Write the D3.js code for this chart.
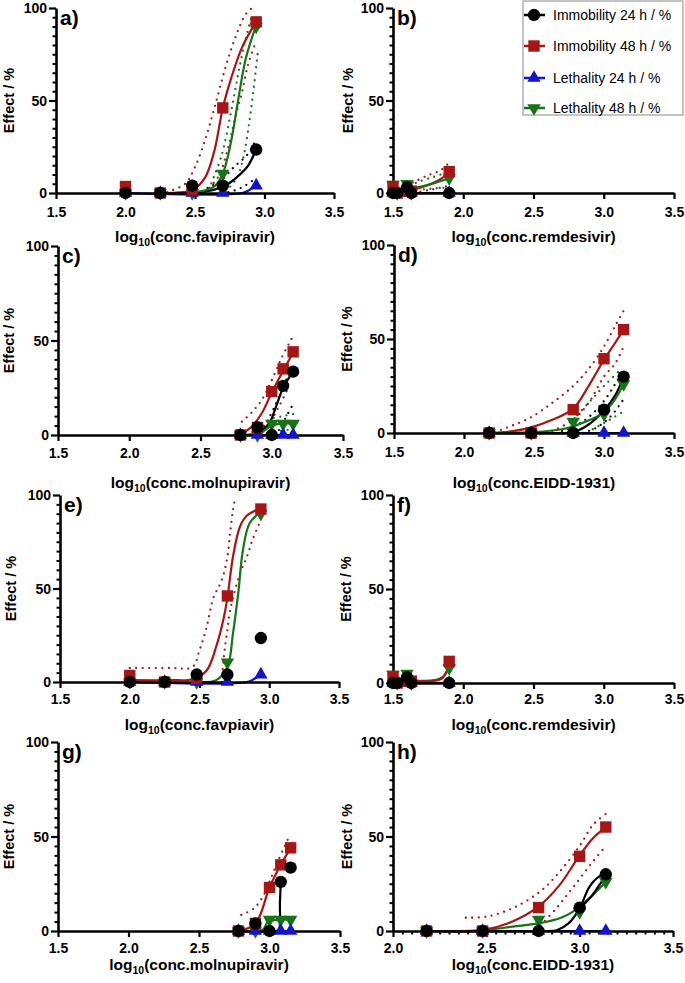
<!DOCTYPE html>
<html>
<head>
<meta charset="utf-8">
<script src="https://cdn.jsdelivr.net/npm/d3@7"></script>
<style>
  body { margin: 0; background: #fff; }
  svg { display: block; }
</style>
</head>
<body>
<svg id="chart" width="685" height="983"></svg>
<script>
// ---- series (legend) ----
var seriesNames = ["Immobility 24 h / %", "Immobility 48 h / %", "Lethality 24 h / %", "Lethality 48 h / %"];

// ---- measured points ----
var favX       = [2.0, 2.25, 2.48, 2.7, 2.94];
var favImmob24 = [0, 0, 4, 4, 23.5];
var favImmob48 = [3.5, 0, 2, 46, 92.5];
var favLeth24  = [0, 0, 0, 0, 4];
var favLeth48  = [0, 0, 0, 10.5, 90];

var remX       = [1.5, 1.53, 1.6, 1.63, 1.9];
var remImmob24 = [0, 0, 3, 0, 0];
var remImmob48 = [3.5, 0, 1, 1, 11.5];
var remLeth24  = [0, 0, 0, 0, 0];
var remLeth48  = [4.5, 0, 5, 0, 8];

var molX       = [2.78, 2.9, 3.0, 3.08, 3.15];
var molImmob24 = [0, 4, 0, 26, 33.5];
var molImmob48 = [0, 4, 23, 35, 44];
var molLeth24  = [0, 0, 0, 0, 0];
var molLeth48  = [0, 0, 6, 6, 6];

var eiddX       = [2.18, 2.48, 2.78, 3.0, 3.14];
var eiddImmob24 = [0, 0, 0, 12.4, 30];
var eiddImmob48 = [0, 0, 12.4, 39.5, 55];
var eiddLeth24  = [0, 0, 0, 0, 0];
var eiddLeth48  = [0, 0, 6, 10, 26];

// ---- fitted curves and 95% bands ([log conc, effect]) ----
// a) favipiravir
var aImmob24Fit = [[2.25,0],[2.5,0.4],[2.64,1.8],[2.74,5],[2.83,10.5],[2.88,14.5],[2.94,23.5]];
var aImmob24Hi  = [[2.59,2.7],[2.69,7],[2.78,14],[2.88,21],[2.94,29]];
var aImmob24Lo  = [[2.74,0.4],[2.83,2.7],[2.94,8]];
var aImmob48Fit = [[2.25,0],[2.4,0.3],[2.48,1.5],[2.57,8],[2.64,23],[2.7,46],[2.76,62],[2.84,79],[2.94,92.5]];
var aImmob48Hi  = [[2.3,0.5],[2.43,5],[2.5,14],[2.57,28],[2.64,46],[2.72,68],[2.79,84],[2.86,96],[2.91,100]];
var aImmob48Lo  = [[2.57,0.4],[2.67,9],[2.74,25],[2.79,41],[2.84,55],[2.88,69],[2.93,80]];
var aLeth24Fit  = [[2.0,0],[2.84,0],[2.9,2],[2.94,4]];
var aLeth48Fit  = [[2.48,0],[2.64,3.6],[2.7,10.5],[2.76,28],[2.81,50],[2.86,71],[2.91,84],[2.94,90]];
var aLeth48Hi   = [[2.6,2],[2.69,20],[2.76,44],[2.81,64],[2.86,82],[2.91,96]];
var aLeth48Lo   = [[2.72,1],[2.8,8],[2.85,20],[2.89,38],[2.92,55],[2.95,75]];
// b) remdesivir
var bImmob24Fit = [[1.5,0],[1.9,0]];
var bImmob48Fit = [[1.5,1],[1.6,1.5],[1.7,3],[1.8,6],[1.9,10.5]];
var bImmob48Hi  = [[1.6,4],[1.65,6],[1.75,9.6],[1.84,12.3],[1.9,16.5]];
var bImmob48Lo  = [[1.65,0],[1.75,1.5],[1.85,3],[1.9,4]];
var bLeth24Fit  = [[1.5,0],[1.9,0]];
var bLeth48Fit  = [[1.5,1],[1.6,2],[1.7,3.5],[1.8,5.5],[1.9,8]];
var bLeth48Hi   = [[1.62,4],[1.68,6],[1.79,8.7],[1.87,10.7]];
var bLeth48Lo   = [[1.72,2],[1.8,2.5],[1.9,3]];
// c) molnupiravir
var cImmob24Fit = [[2.78,0],[2.9,1],[2.98,6],[3.03,15],[3.08,25],[3.15,33.5]];
var cImmob24Hi  = [[2.95,4.4],[3.02,15],[3.09,27],[3.13,35]];
var cImmob24Lo  = [[3.05,2.6],[3.09,8],[3.14,15]];
var cImmob48Fit = [[2.78,0],[2.86,4.5],[2.93,11.5],[3.0,22.5],[3.08,34],[3.15,43.5]];
var cImmob48Hi  = [[2.79,7],[2.86,12],[2.93,18.5],[3.0,29],[3.07,41],[3.14,51]];
var cImmob48Lo  = [[2.9,0.5],[2.98,6],[3.05,15],[3.12,25.6]];
var cLeth24Fit  = [[2.78,0],[3.15,0]];
var cLeth48Fit  = [[2.78,0],[2.9,0.5],[2.95,2.5],[3.0,5],[3.08,6],[3.15,6]];
var cLeth48Hi   = [[2.92,2],[2.98,8],[3.08,10],[3.15,11]];
var cLeth48Lo   = [[2.98,0],[3.05,2],[3.15,3]];
// d) EIDD-1931
var dImmob24Fit = [[2.18,0],[2.6,0],[2.78,0.5],[2.88,4],[3.0,12],[3.08,20],[3.14,30]];
var dImmob24Hi  = [[2.7,1],[2.8,4],[2.9,9],[3.0,17],[3.08,26],[3.14,33]];
var dImmob24Lo  = [[2.85,0],[2.95,3],[3.05,9],[3.14,18]];
var dImmob48Fit = [[2.18,0],[2.35,1],[2.48,3],[2.63,7],[2.78,13],[2.89,25],[3.0,39],[3.08,48],[3.14,55]];
var dImmob48Hi  = [[2.22,0.5],[2.3,2.7],[2.47,8],[2.63,16],[2.78,25],[2.89,34],[3.0,46],[3.08,57],[3.14,65]];
var dImmob48Lo  = [[2.63,1],[2.78,7],[2.89,16],[3.0,30],[3.08,37],[3.14,46]];
var dLeth24Fit  = [[2.18,0],[3.14,0]];
var dLeth48Fit  = [[2.18,0],[2.5,0.5],[2.7,2],[2.78,3.5],[2.9,7],[3.0,11],[3.08,18],[3.14,26]];
var dLeth48Hi   = [[2.78,7],[2.89,16],[3.0,25],[3.13,34.5]];
var dLeth48Lo   = [[2.92,2],[3.04,7],[3.14,11.5]];
// e) favipiravir, second model
var eImmob48Fit = [[2.0,1],[2.3,1],[2.45,1.5],[2.55,6],[2.62,19],[2.67,33],[2.7,45],[2.74,67],[2.79,83],[2.84,89],[2.94,93]];
var eImmob48Hi  = [[2.0,7.5],[2.3,7.5],[2.45,8],[2.5,17],[2.55,29],[2.6,45],[2.66,54.5],[2.7,67],[2.72,80],[2.74,92],[2.755,98]];
var eImmob48Lo  = [[2.66,0],[2.67,10],[2.68,17],[2.7,28],[2.72,38.5],[2.79,58],[2.84,67],[2.88,76],[2.93,85]];
var eLeth24Fit  = [[2.0,0],[2.84,0],[2.9,2],[2.94,4]];
var eLeth48Fit  = [[2.48,0],[2.62,1],[2.7,8],[2.74,26],[2.78,49],[2.81,70],[2.86,85],[2.94,91]];
// f) remdesivir, second model
var fImmob24Fit = [[1.5,0],[1.9,0]];
var fImmob48Fit = [[1.5,1.2],[1.8,1.2],[1.85,2.5],[1.88,6],[1.9,11.5]];
var fLeth24Fit  = [[1.5,0],[1.9,0]];
var fLeth48Fit  = [[1.5,1.5],[1.8,1.5],[1.85,3],[1.88,5.5],[1.9,8]];
// g) molnupiravir, second model
var gImmob24Fit = [[2.78,0],[3.05,0],[3.068,1],[3.074,15],[3.08,26]];
var gImmob48Fit = [[2.78,0],[2.9,4],[3.0,23],[3.08,35],[3.15,44]];
var gImmob48Hi  = [[2.8,8.5],[2.89,12],[2.96,19],[3.0,26],[3.06,37],[3.14,50]];
var gLeth24Fit  = [[2.78,0],[3.15,0]];
var gLeth48Fit  = [[2.78,0],[2.95,0.5],[2.99,5],[3.08,6],[3.15,6]];
// h) EIDD-1931, second model
var hImmob24Fit = [[2.18,0],[2.78,0],[2.88,0.5],[2.94,4],[3.0,12],[3.05,23],[3.1,28.5],[3.14,30],[3.11,25],[3.06,18],[3.0,12]];
var hImmob48Fit = [[2.18,0],[2.48,0.5],[2.64,5],[2.78,13],[2.89,24],[3.0,40],[3.07,49],[3.14,55]];
var hImmob48Hi  = [[2.39,7],[2.5,7.6],[2.64,12],[2.79,21],[2.89,31],[3.0,45],[3.07,56],[3.14,62]];
var hImmob48Lo  = [[2.79,3],[2.875,12],[2.96,22.5],[3.07,36.6],[3.14,45]];
var hLeth24Fit  = [[2.18,0],[3.14,0]];
var hLeth48Fit  = [[2.18,0],[2.48,0.3],[2.64,2.3],[2.78,4],[2.9,7],[2.96,10],[3.07,19],[3.14,26]];

// ---- styling ----
var font = "'Liberation Sans', Arial, Helvetica, sans-serif";
var colors = ["#000000", "#A51616", "#1414C8", "#167318"];
var symbols = [d3.symbolCircle, d3.symbolSquare, d3.symbolTriangle, d3.symbolTriangle];
var symSize = [120, 130, 78, 78];
var symRot = [0, 0, 0, 180];
var drawOrder = [3, 2, 1, 0];

// panel layout
var panels = [
  {tag: "a)", drug: "favipiravir", xs: favX, ys: [favImmob24, favImmob48, favLeth24, favLeth48],
   fits: [[0,aImmob24Hi,1],[0,aImmob24Lo,1],[1,aImmob48Hi,1],[1,aImmob48Lo,1],[3,aLeth48Hi,1],[3,aLeth48Lo,1],
          [2,aLeth24Fit,0],[0,aImmob24Fit,0],[1,aImmob48Fit,0],[3,aLeth48Fit,0]],
   left: 56, right: 334, top: 8, bottom: 193, dom: [1.5, 3.5], tickY: 212, titleY: 237, ytx: 9},
  {tag: "b)", drug: "remdesivir", xs: remX, ys: [remImmob24, remImmob48, remLeth24, remLeth48],
   fits: [[1,bImmob48Hi,1],[1,bImmob48Lo,1],[3,bLeth48Hi,1],[3,bLeth48Lo,1],
          [2,bLeth24Fit,0],[0,bImmob24Fit,0],[1,bImmob48Fit,0],[3,bLeth48Fit,0]],
   left: 393, right: 674, top: 8, bottom: 193, dom: [1.5, 3.5], tickY: 212, titleY: 237, ytx: 348, legend: true},
  {tag: "c)", drug: "molnupiravir", xs: molX, ys: [molImmob24, molImmob48, molLeth24, molLeth48],
   fits: [[0,cImmob24Hi,1],[0,cImmob24Lo,1],[1,cImmob48Hi,1],[1,cImmob48Lo,1],[3,cLeth48Hi,1],[3,cLeth48Lo,1],
          [2,cLeth24Fit,0],[0,cImmob24Fit,0],[1,cImmob48Fit,0],[3,cLeth48Fit,0]],
   left: 58, right: 343, top: 246, bottom: 435, dom: [1.5, 3.5], tickY: 453, titleY: 483, ytx: 9},
  {tag: "d)", drug: "EIDD-1931", xs: eiddX, ys: [eiddImmob24, eiddImmob48, eiddLeth24, eiddLeth48],
   fits: [[0,dImmob24Hi,1],[0,dImmob24Lo,1],[1,dImmob48Hi,1],[1,dImmob48Lo,1],[3,dLeth48Hi,1],[3,dLeth48Lo,1],
          [2,dLeth24Fit,0],[0,dImmob24Fit,0],[1,dImmob48Fit,0],[3,dLeth48Fit,0]],
   left: 394, right: 674, top: 245, bottom: 433, dom: [1.5, 3.5], tickY: 452, titleY: 483, ytx: 347},
  {tag: "e)", drug: "favpiavir", xs: favX, ys: [favImmob24, favImmob48, favLeth24, favLeth48],
   fits: [[1,eImmob48Hi,1],[1,eImmob48Lo,1],
          [2,eLeth24Fit,0],[1,eImmob48Fit,0],[3,eLeth48Fit,0]],
   left: 60, right: 339, top: 495, bottom: 682, dom: [1.5, 3.5], tickY: 699, titleY: 725, ytx: 11},
  {tag: "f)", drug: "remdesivir", xs: remX, ys: [remImmob24, remImmob48, remLeth24, remLeth48],
   fits: [[2,fLeth24Fit,0],[0,fImmob24Fit,0],[3,fLeth48Fit,0],[1,fImmob48Fit,0]],
   left: 393, right: 674, top: 495, bottom: 683, dom: [1.5, 3.5], tickY: 699, titleY: 725, ytx: 346},
  {tag: "g)", drug: "molnupiravir", xs: molX, ys: [molImmob24, molImmob48, molLeth24, molLeth48],
   fits: [[1,gImmob48Hi,1],
          [2,gLeth24Fit,0],[0,gImmob24Fit,0],[1,gImmob48Fit,0],[3,gLeth48Fit,0]],
   left: 58, right: 340, top: 742, bottom: 931, dom: [1.5, 3.5], tickY: 948, titleY: 965, ytx: 9},
  {tag: "h)", drug: "EIDD-1931", xs: eiddX, ys: [eiddImmob24, eiddImmob48, eiddLeth24, eiddLeth48],
   fits: [[1,hImmob48Hi,1],[1,hImmob48Lo,1],
          [2,hLeth24Fit,0],[3,hLeth48Fit,0],[0,hImmob24Fit,0],[1,hImmob48Fit,0]],
   left: 393, right: 673, top: 742, bottom: 931, dom: [2.0, 3.5], tickY: 948, titleY: 965, ytx: 347, minorX: true}
];

var svg = d3.select("#chart").style("font-family", font);
svg.append("rect").attr("width", 685).attr("height", 983).attr("fill", "#fff");

panels.forEach(p => {
  var x = d3.scaleLinear().domain(p.dom).range([p.left, p.right]);
  var y = d3.scaleLinear().domain([0, 100]).range([p.bottom, p.top]);
  var g = svg.append("g");

  // fitted curves: dotted bands first, then solid fits
  var line = d3.line().x(d => x(d[0])).y(d => y(d[1])).curve(d3.curveCatmullRom.alpha(0.5));
  var fitsSorted = p.fits.filter(f => f[2]).concat(p.fits.filter(f => !f[2]));
  g.append("g").selectAll("path")
    .data(fitsSorted)
    .join("path")
      .attr("d", f => line(f[1]))
      .attr("fill", "none")
      .attr("stroke", f => colors[f[0]])
      .attr("stroke-width", f => f[2] ? 2.3 : 2.2)
      .attr("stroke-linecap", "round")
      .attr("stroke-dasharray", f => f[2] ? "0 6.5" : null);

  // axes
  var xMajor = d3.range(p.dom[0], p.dom[1] + 0.001, 0.5);
  var xAxis = g.append("g")
      .attr("transform", `translate(0,${p.bottom})`)
      .call(d3.axisBottom(x).tickValues(xMajor).tickFormat(d3.format(".1f")).tickSize(6).tickSizeOuter(0));
  if (p.minorX) {
    var minors = d3.range(40, 71).map(v => v / 20).filter(v => Math.abs(v * 2 - Math.round(v * 2)) > 1e-6);
    g.append("g")
      .attr("transform", `translate(0,${p.bottom})`)
      .call(d3.axisBottom(x).tickValues(minors).tickFormat("").tickSize(3.5).tickSizeOuter(0))
      .call(a => a.select(".domain").remove())
      .selectAll("line").attr("stroke-width", 2);
  }
  xAxis.selectAll("text")
      .attr("y", p.tickY - p.bottom).attr("dy", "0.35em")
      .attr("font-size", 14).attr("font-weight", "bold").attr("font-family", font).attr("fill", "#000");

  var yAxis = g.append("g")
      .attr("transform", `translate(${p.left},0)`)
      .call(d3.axisLeft(y).tickValues([0, 50, 100]).tickSize(7).tickSizeOuter(0));
  g.append("g")
      .attr("transform", `translate(${p.left},0)`)
      .call(d3.axisLeft(y).tickValues(d3.range(5, 100, 5).filter(v => v % 50)).tickFormat("").tickSize(3.5).tickSizeOuter(0))
      .call(a => a.select(".domain").remove())
      .selectAll("line").attr("stroke-width", 2);
  yAxis.selectAll("text")
      .attr("x", -9).attr("dy", "0.35em")
      .attr("font-size", 14).attr("font-weight", "bold").attr("font-family", font).attr("fill", "#000");

  [xAxis, yAxis].forEach(a => {
    a.select(".domain").attr("stroke-width", 2.6);
    a.selectAll(".tick line").attr("stroke-width", 2.2);
  });

  // markers
  drawOrder.forEach(s => {
    g.append("g").selectAll("path")
      .data(p.xs.map((v, i) => [v, p.ys[s][i]]))
      .join("path")
        .attr("d", d3.symbol().type(symbols[s]).size(symSize[s]))
        .attr("transform", d => `translate(${x(d[0])},${y(d[1])}) rotate(${symRot[s]})`)
        .attr("fill", colors[s]);
  });

  // panel tag
  g.append("text")
    .attr("x", p.left + 4).attr("y", p.top + 17)
    .attr("font-size", 21).attr("font-weight", "bold")
    .text(p.tag);

  // axis titles
  g.append("text")
    .attr("transform", `translate(${p.ytx},${(p.top + p.bottom) / 2}) rotate(-90)`)
    .attr("text-anchor", "middle").attr("dy", "0.35em")
    .attr("font-size", 14.5).attr("font-weight", "bold")
    .text("Effect / %");

  var t = g.append("text")
    .attr("x", (p.left + p.right) / 2).attr("y", p.titleY).attr("dy", "0.35em")
    .attr("text-anchor", "middle")
    .attr("font-size", 15.5).attr("font-weight", "bold");
  t.append("tspan").text("log");
  t.append("tspan").attr("font-size", 10.5).attr("dy", 4).text("10");
  t.append("tspan").attr("dy", -4).text(`(conc.${p.drug})`);

  if (p.legend) {
    var lg = svg.append("g");
    lg.append("rect")
      .attr("x", 523).attr("y", 1).attr("width", 160).attr("height", 114)
      .attr("fill", "#fff").attr("stroke", "#8a8a8a").attr("stroke-width", 1);
    var rowY = [15, 46, 78, 108];
    seriesNames.forEach((name, s) => {
      var row = lg.append("g").attr("transform", `translate(0,${rowY[s]})`);
      row.append("line").attr("x1", 524).attr("x2", 545).attr("stroke", colors[s]).attr("stroke-width", 2.5);
      row.append("path")
        .attr("d", d3.symbol().type(symbols[s]).size(symSize[s]))
        .attr("transform", `translate(534,0) rotate(${symRot[s]})`)
        .attr("fill", colors[s]);
      row.append("text")
        .attr("x", 553).attr("dy", "0.35em")
        .attr("font-size", 14)
        .text(name);
    });
  }
});
</script>
</body>
</html>
